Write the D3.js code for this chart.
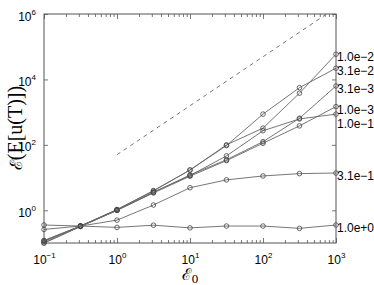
<!DOCTYPE html>
<html>
<head>
<meta charset="utf-8">
<script src="https://cdn.jsdelivr.net/npm/d3@7"></script>
<style>
  body { margin: 0; background: #fff; }
  svg { display: block; }
</style>
</head>
<body>
<script>
// x values (E0)
const e0 = [0.1, 0.316, 1, 3.16, 10, 31.6, 100, 316, 1000];

// series labels (right side) and values
const seriesNames = ["1.0e\u22122", "3.1e\u22122", "3.1e\u22123", "1.0e\u22123", "1.0e\u22121", "3.1e\u22121", "1.0e+0"];
const s1e2 = [0.11, 0.33, 1.05, 4.0, 17, 100, 325, 3800, 59000];
const s31e2 = [0.115, 0.33, 1.05, 3.9, 17, 95, 870, 5600, 22000];
const s31e3 = [0.1, 0.32, 1.0, 3.5, 12, 35, 125, 650, 6300];
const s1e3 = [0.1, 0.32, 1.0, 3.4, 11, 33, 112, 380, 1480];
const s1e1 = [0.12, 0.33, 1.0, 3.6, 11.5, 46, 270, 620, 870];
const s31e1 = [0.26, 0.33, 0.5, 1.45, 4.9, 8.5, 11.2, 13.2, 13.8];
const s1e0 = [0.355, 0.33, 0.3, 0.35, 0.29, 0.33, 0.33, 0.28, 0.355];
const seriesValues = [s1e2, s31e2, s31e3, s1e3, s1e1, s31e1, s1e0];

// dashed reference line (two end points)
const refX = [1, 745];
const refY = [50, 1e6];

// tick values
const xMajor = [0.1, 1, 10, 100, 1000];
const yMajor = [1, 100, 1e4, 1e6];

const w = 374;
const h = 285;
const margin = { top: 14, right: 38, bottom: 42, left: 44 };
const axisColor = "#555";
const lineColor = "#666";

const svg = d3.select("body").append("svg").attr("width", w).attr("height", h);

const xScale = d3.scaleLog().domain([0.1, 1000]).range([margin.left, w - margin.right]);
const yScale = d3.scaleLog().domain([0.1, 1e6]).range([h - margin.bottom, margin.top]);

// minor ticks on x (2..9 in each decade)
const xMinor = xScale.ticks().filter((d) => !xMajor.some((m) => Math.abs(m - d) < 1e-9));

function addAxis(axis, tx, ty) {
  const g = svg.append("g").attr("transform", "translate(" + tx + "," + ty + ")").call(axis);
  g.select(".domain").remove();
  g.selectAll("line").attr("stroke", axisColor).attr("stroke-width", 0.8);
  return g;
}

// bottom / top minor ticks
addAxis(d3.axisBottom(xScale).tickValues(xMinor).tickSize(-3).tickFormat(""), 0, h - margin.bottom);
addAxis(d3.axisTop(xScale).tickValues(xMinor).tickSize(-3).tickFormat(""), 0, margin.top);
addAxis(d3.axisTop(xScale).tickValues(xMajor).tickSize(-5).tickFormat(""), 0, margin.top);
// bottom major with labels
const gx = addAxis(d3.axisBottom(xScale).tickValues(xMajor).tickSize(-5).tickPadding(12), 0, h - margin.bottom);
// left / right major ticks
const gy = addAxis(d3.axisLeft(yScale).tickValues(yMajor).tickSize(-4).tickPadding(8), margin.left, 0);
addAxis(d3.axisRight(yScale).tickValues(yMajor).tickSize(-4).tickFormat(""), w - margin.right, 0);

// power-of-ten labels
function powerLabel(sel) {
  sel.each(function (d) {
    const t = d3.select(this);
    const ex = Math.round(Math.log10(d));
    t.text(null)
      .attr("fill", "#000")
      .style("font-family", "'Liberation Sans', Arial, sans-serif")
      .style("font-size", "12px");
    t.append("tspan").text("10");
    t.append("tspan")
      .attr("dy", -6)
      .style("font-size", "8px")
      .text(ex < 0 ? "\u2212" + -ex : ex);
  });
}
gx.selectAll("text").call(powerLabel);
gy.selectAll("text").call(powerLabel).attr("dy", "0.5em");

// box
svg.append("rect")
  .attr("x", margin.left)
  .attr("y", margin.top)
  .attr("width", w - margin.left - margin.right)
  .attr("height", h - margin.top - margin.bottom)
  .attr("fill", "none")
  .attr("stroke", axisColor)
  .attr("stroke-width", 1);

// dashed line
svg.append("line")
  .attr("x1", xScale(refX[0]))
  .attr("y1", yScale(refY[0]))
  .attr("x2", xScale(refX[1]))
  .attr("y2", yScale(refY[1]))
  .attr("stroke", lineColor)
  .attr("stroke-width", 0.9)
  .attr("stroke-dasharray", "4,4");

// series lines + markers
const line = d3.line()
  .x((d, i) => xScale(e0[i]))
  .y((d) => yScale(d));

seriesValues.forEach((vals) => {
  svg.append("path")
    .datum(vals)
    .attr("d", line)
    .attr("fill", "none")
    .attr("stroke", lineColor)
    .attr("stroke-width", 0.9);
  svg.selectAll(null)
    .data(vals)
    .enter()
    .append("circle")
    .attr("cx", (d, i) => xScale(e0[i]))
    .attr("cy", (d) => yScale(d))
    .attr("r", 2.3)
    .attr("fill", "none")
    .attr("stroke", "#444")
    .attr("stroke-width", 0.8);
});

// right-side series labels, pushed apart so they don't overlap
const labels = seriesNames
  .map((name, i) => ({ name: name, y: yScale(seriesValues[i][e0.length - 1]) + 3 }))
  .sort((a, b) => a.y - b.y);
for (let i = 1; i < labels.length; i++) {
  if (labels[i].y - labels[i - 1].y < 14) labels[i].y = labels[i - 1].y + 14;
}
svg.selectAll(".slabel")
  .data(labels)
  .enter()
  .append("text")
  .attr("class", "slabel")
  .attr("x", xScale(1000) + 1)
  .attr("y", (d) => d.y)
  .attr("dy", "0.35em")
  .style("font-family", "'Liberation Sans', Arial, sans-serif")
  .style("font-size", "12px")
  .text((d) => d.name);

// axis titles
const xt = svg.append("text")
  .attr("x", 190)
  .attr("y", 280)
  .attr("text-anchor", "middle")
  .style("font-family", "'DejaVu Serif', 'Liberation Serif', serif")
  .style("font-size", "16px");
xt.append("tspan").text("\u2130");
xt.append("tspan").attr("dy", 3).style("font-size", "11px").text("0");

const yt = svg.append("text")
  .attr("transform", "translate(22,128) rotate(-90)")
  .attr("text-anchor", "middle")
  .style("font-family", "'Liberation Serif', 'Times New Roman', serif")
  .style("font-size", "20px");
yt.append("tspan").style("font-family", "'DejaVu Serif', serif").style("font-size", "17px").text("\u2130");
yt.append("tspan").text("(E[u(T)])");
</script>
</body>
</html>
